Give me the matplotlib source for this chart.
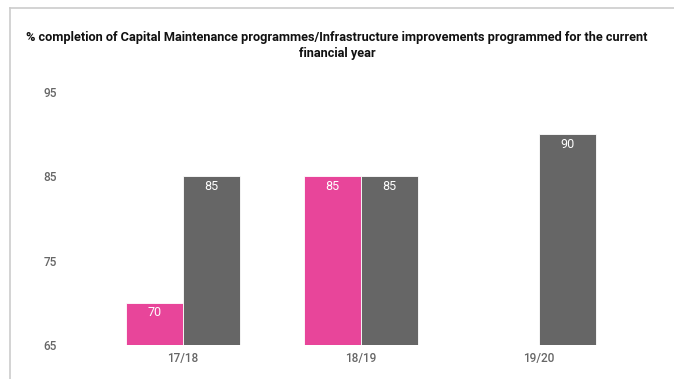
import matplotlib
matplotlib.use("Agg")
import matplotlib.pyplot as plt
from matplotlib.lines import Line2D
import numpy as np

plt.rcParams["font.family"] = ["Roboto", "DejaVu Sans"]

years = ["17/18", "18/19", "19/20"]
actual = [70, 85, None]      # pink series
target = [85, 85, 90]        # grey series
yticks = [65, 75, 85, 95]

PINK = "#e8459a"
GREY = "#666666"
TEXT = "#666666"

fig = plt.figure(figsize=(6.74, 3.79), dpi=100)
ax = fig.add_axes([94 / 674, 1 - 345 / 379, 534 / 674, (345 - 92) / 379])

x = np.arange(len(years))
w = 0.32

def draw_series(vals, offset, color):
    for xi, v in zip(x, vals):
        if v is None:
            continue
        ax.bar(xi + offset, v - 65, bottom=65, width=w, color=color,
               edgecolor="white", linewidth=0.6)
        ax.text(xi + offset, v - 1.2, f"{v}", ha="center", va="center",
                color="white", fontsize=9)

draw_series(actual, -w / 2, PINK)
draw_series(target, w / 2, GREY)

ax.set_xlim(-0.5, 2.5)
ax.set_ylim(65, 95)
ax.set_xticks(x)
ax.set_xticklabels(years, color=TEXT, fontsize=8.5, fontweight="medium")
ax.set_yticks(yticks)
ax.set_yticklabels([str(t) for t in yticks], color=TEXT, fontsize=8.5,
                   fontweight="medium")
ax.tick_params(axis="x", length=0, pad=5)
ax.tick_params(axis="y", length=0, pad=26.5)
for s in ax.spines.values():
    s.set_visible(False)

fig.text(0.5, 1 - 37 / 379,
         "% completion of Capital Maintenance programmes/Infrastructure improvements programmed for the current",
         ha="center", va="center", fontsize=9.2, fontweight="bold",
         fontstretch="condensed", color="#111111")
fig.text(0.5, 1 - 53 / 379, "financial year", ha="center", va="center",
         fontsize=9.2, fontweight="bold", fontstretch="condensed", color="#111111")

# frame edges along top and left
fig.add_artist(Line2D([10 / 674, 1], [1 - 8 / 379, 1 - 8 / 379],
                      color="#cccccc", linewidth=1.2, transform=fig.transFigure))
fig.add_artist(Line2D([10 / 674, 10 / 674], [0, 1 - 8 / 379],
                      color="#cccccc", linewidth=1.2, transform=fig.transFigure))

fig.savefig("out.png", dpi=100)
